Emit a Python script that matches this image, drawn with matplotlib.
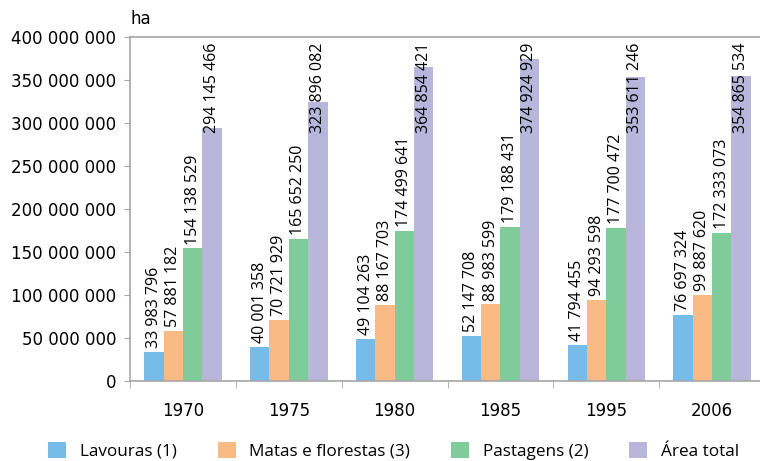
import numpy as np
import matplotlib
matplotlib.use("Agg")
import matplotlib.pyplot as plt
from matplotlib.patches import Patch

# ============== Data ==============
years = ["1970", "1975", "1980", "1985", "1995", "2006"]
lavouras = [33983796, 40001358, 49104263, 52147708, 41794455, 76697324]
matas = [57881182, 70721929, 88167703, 88983599, 94293598, 99887620]
pastagens = [154138529, 165652250, 174499641, 179188431, 177700472, 172333073]
area_total = [294145466, 323896082, 364854421, 374924929, 353611246, 354865534]
series_names = ["Lavouras (1)", "Matas e florestas (3)", "Pastagens (2)", "Área total"]
y_ticks = [0, 50000000, 100000000, 150000000, 200000000, 250000000,
           300000000, 350000000, 400000000]
# ==================================

COLORS = ["#75bde8", "#f9bb83", "#80cb9a", "#b9b5db"]
LABEL_FONT = ["Open Sans", "DejaVu Sans"]
AXIS_GRAY = "#a6a6a6"


def fmt(v):
    return f"{v:,}".replace(",", " ")


fig = plt.figure(figsize=(7.6, 4.61), dpi=100)
ax = fig.add_axes([0.1711, 0.1735, 0.8355, 0.7462])

x = np.arange(len(years))
w = 0.183
all_series = [lavouras, matas, pastagens, area_total]

for k, vals in enumerate(all_series):
    ax.bar(x + (k - 1.5) * w, vals, width=w, color=COLORS[k], linewidth=0)

ax.set_xlim(-0.5, 5.5)
ax.set_ylim(0, 400000000)
ax.set_yticks(y_ticks)
ax.set_yticklabels([fmt(v) for v in y_ticks], fontsize=12, family="DejaVu Sans")
ax.set_xticks(x)
ax.set_xticklabels(years, fontsize=12, family="DejaVu Sans")
ax.set_xticks(np.arange(-0.5, 6, 1), minor=True)
ax.tick_params(axis="x", which="major", length=0, pad=15)
ax.tick_params(axis="x", which="minor", length=5, color=AXIS_GRAY)
ax.tick_params(axis="y", length=4, color=AXIS_GRAY, pad=6)

for side in ["left", "bottom", "top"]:
    ax.spines[side].set_color(AXIS_GRAY)
    ax.spines[side].set_linewidth(1.2)
ax.spines["right"].set_visible(False)

ax.text(0.0, 1.025, "ha", transform=ax.transAxes, fontsize=12,
        family="DejaVu Sans", va="bottom", ha="left")

# value labels above bars, pushed down when they would leave the plot area
pad = 4.5e6
top_limit = 394e6
fig.canvas.draw()
renderer = fig.canvas.get_renderer()
inv = ax.transData.inverted()
for k, vals in enumerate(all_series):
    for i, v in enumerate(vals):
        xc = x[i] + (k - 1.5) * w
        t = ax.text(xc, v + pad, fmt(v), rotation=90,
                    ha="center", va="bottom", fontsize=11.5, family=LABEL_FONT)
        bb = t.get_window_extent(renderer)
        top_data = inv.transform((bb.x1, bb.y1))[1]
        if top_data > top_limit:
            t.set_y(top_limit)
            t.set_va("top")

handles = [Patch(facecolor=c, edgecolor="none") for c in COLORS]
fig.legend(handles, series_names, loc="center", ncol=4,
           bbox_to_anchor=(0.518, 0.022), frameon=False,
           prop={"family": LABEL_FONT, "size": 12.3},
           handlelength=1.05, handleheight=1.05, handletextpad=0.8,
           columnspacing=2.4, borderpad=0, borderaxespad=0)

fig.savefig("out.png", dpi=100)
